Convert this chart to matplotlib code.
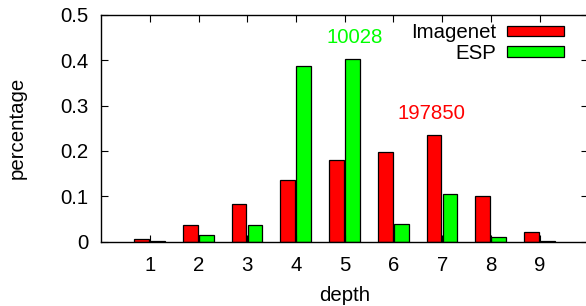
import numpy as np
import matplotlib.pyplot as plt

plt.rcParams['font.family'] = ['Liberation Sans', 'DejaVu Sans']
plt.rcParams['font.size'] = 14.7

# data
depth = [1, 2, 3, 4, 5, 6, 7, 8, 9]
imagenet = [0.006, 0.036, 0.082, 0.137, 0.179, 0.198, 0.236, 0.100, 0.021]
esp = [0.0008, 0.014, 0.037, 0.387, 0.402, 0.038, 0.106, 0.010, 0.001]
series_names = ['Imagenet', 'ESP']
yticks = [0, 0.1, 0.2, 0.3, 0.4, 0.5]
ytick_labels = ['0', '0.1', '0.2', '0.3', '0.4', '0.5']
note_esp = '10028'
note_imagenet = '197850'

W, H = 586, 306
fig = plt.figure(figsize=(W / 100, H / 100), dpi=100)
# axes box in pixels: left 101, right 588.5, top 14.7, bottom 241.7
ax = fig.add_axes([101 / W, (H - 241.7) / H, 487.5 / W, 227 / H])

x = np.array(depth)
ax.bar(x - 0.32, imagenet, width=0.3, align='edge', color='#ff0000',
       edgecolor='black', linewidth=0.9, label=series_names[0])
ax.bar(x + 0.01, esp, width=0.3, align='edge', color='#00ff00',
       edgecolor='black', linewidth=0.9, label=series_names[1])

ax.set_xlim(0, 10)
ax.set_ylim(0, 0.5)
ax.set_xticks(depth)
ax.set_yticks(yticks, ytick_labels)
ax.tick_params(direction='in', top=True, right=True, length=5, width=0.8)
ax.tick_params(axis='x', pad=10)
ax.tick_params(axis='y', pad=9)
for s in ax.spines.values():
    s.set_linewidth(1.0)

ax.set_xlabel('depth')
ax.xaxis.set_label_coords(0.5, -0.195)
ax.set_ylabel('percentage')
ax.yaxis.set_label_coords(-0.152, 0.5)

ax.text(5.20, 0.437, note_esp, color='#00ff00', ha='center', va='baseline')
ax.text(6.78, 0.270, note_imagenet, color='#ff0000', ha='center', va='baseline')

ax.legend(loc='upper right', bbox_to_anchor=(564 / W, (H - 23.5) / H),
          bbox_transform=fig.transFigure, frameon=False, markerfirst=False,
          handlelength=2.8, handleheight=0.42, handletextpad=0.5,
          labelspacing=0.05, borderpad=0, borderaxespad=0)

fig.savefig('out.png', dpi=100)
